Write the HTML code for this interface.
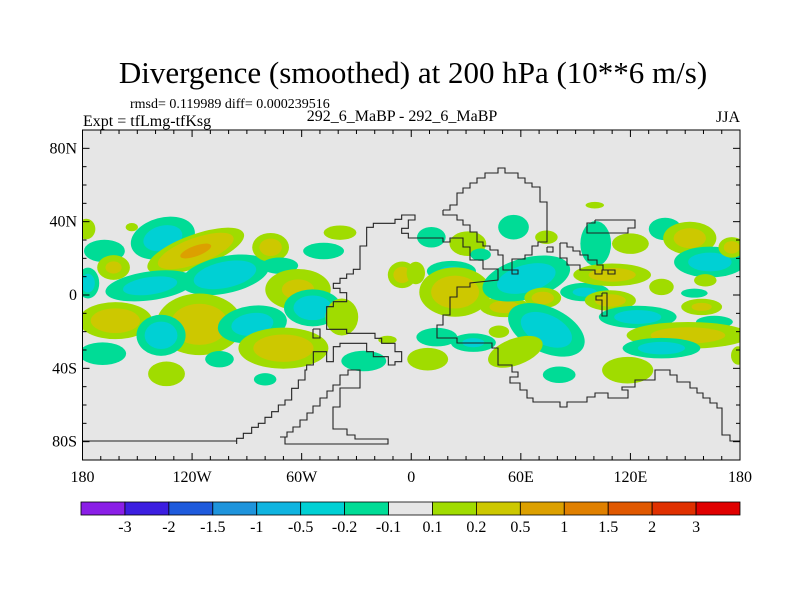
<!DOCTYPE html>
<html><head><meta charset="utf-8"><style>
html,body{margin:0;padding:0;background:#fff;}
svg{display:block;font-family:"Liberation Serif",serif;}
</style></head><body>
<svg id="chart" width="800" height="600" viewBox="0 0 800 600" xmlns="http://www.w3.org/2000/svg">
<defs><clipPath id="mapclip"><rect x="82.5" y="130" width="657.5" height="330"/></clipPath></defs>
<text x="413" y="83" font-size="31" text-anchor="middle">Divergence (smoothed) at 200 hPa (10**6 m/s)</text>
<text x="130" y="108" font-size="14">rmsd= 0.119989 diff= 0.000239516</text>
<text x="83" y="126" font-size="16">Expt = tfLmg-tfKsg</text>
<text x="402" y="121" font-size="16" text-anchor="middle">292_6_MaBP - 292_6_MaBP</text>
<text x="740" y="122" font-size="16" text-anchor="end">JJA</text>
<rect x="82.5" y="130" width="657.5" height="330" fill="#e6e6e6"/>
<g id="blobs" clip-path="url(#mapclip)"></g>
<g id="coast" fill="none" stroke="#222" stroke-width="1.1"></g>
<rect x="82.5" y="130" width="657.5" height="330" fill="none" stroke="#000" stroke-width="1"/>
<g id="ticks" stroke="#000" stroke-width="1"></g>
<g id="labels" font-size="16"></g>
<g id="cbar"></g>
</svg>
<script>
// ---- data ----
const blobLons = [-136,-118,-143,-102,-77,-72,-48,-39,-62,-54,-38,-162,-116,-137,-87,-70,-169,-134,-105,-80,-26,-5,-177,-178,-168,-163,-153,-13,
 11,31,56,74,38,101,2.5,22,24,51,63,95,72,110,109,120,139,152.5,163.5,175.5,137,161,155,159,124,166,151.5,137,74,9,14,34,57,48,81,118.5,100.5,179];
const blobLats = [31,24,5,11,26,16,24,34,3,-7,-12,-14,-16,-22,-16,-29,-32,-43,-35,-46,-36,11,6.5,36,24,15,37,-24.5,
 31.5,28,37,31.5,22,28,12,13,1.6,-6.5,9,1.6,-1.6,11,-3,28,36,31,18,26,4.4,8,1,-6.5,-12,-14.7,-22,-29,-19,-35,-23,-26,-31,-20,-43.5,-41,49,-33];
const blobRx = [16,25,22,22,9,9,10,8,16,14,8,18,21,12,17,22,11.5,9,7,5.5,11,7,5.5,4.5,10,8,3,4.5,
 7,9,7.5,5.5,5,7.5,4.5,12,17.5,12,22,12,9,19,12.5,9,8,13,17.5,6.5,6,5.5,6.5,10,19,9,30,19,20,10,10,11,14,5,8,12.5,4.5,3.5];
const blobRy = [10,8,7,9,7,4,4,3.5,10,9,9,9,15,10,9,10,5.5,6,4,3,5,6.5,7.5,5,5.5,6,2,2,
 5,6,6,3.3,3,11,5.5,5,12,5,10,4.5,5,5.5,5,5,5.5,8,7.5,5,4,3,2.2,4,5.5,3,6.5,5,11,5.5,4.5,4.5,6.5,3,4,6.5,1.6,4.5];
const blobValues = [-0.3,0.6,-0.3,-0.4,0.3,-0.15,-0.15,0.15,0.25,-0.35,0.2,0.35,0.35,-0.35,-0.3,0.35,-0.2,0.15,-0.15,-0.15,-0.15,0.3,-0.3,0.15,-0.15,0.25,0.15,0.15,
 -0.15,0.15,-0.15,0.15,-0.15,-0.15,0.15,-0.25,0.35,0.3,-0.35,-0.25,0.3,0.3,0.3,0.15,-0.15,0.3,-0.3,0.3,0.15,0.15,-0.15,0.25,-0.3,-0.15,0.3,-0.3,-0.35,0.15,-0.15,-0.25,0.15,0.15,-0.15,0.15,0.15,0.15];
const blobTilts = [-15,-20,-8,-12,0,0,0,0,0,0,0,0,0,0,-8,0,0,0,0,0,0,0,0,0,0,0,0,0,
 0,0,0,0,0,0,0,0,0,0,-15,0,0,0,0,0,0,0,0,0,0,0,0,0,0,0,0,0,25,0,0,0,-20,0,0,0,0,0];
const levels = [-3,-2,-1.5,-1,-0.5,-0.2,-0.1,0.1,0.2,0.5,1,1.5,2,3];
const levelLabels = ["-3","-2","-1.5","-1","-0.5","-0.2","-0.1","0.1","0.2","0.5","1","1.5","2","3"];
const bandColors = ["#8a1ee6","#3c1ee0","#1e5adc","#1e94dc","#10b4e0","#00d0d4","#00dc96","#e6e6e6","#a0dc00","#cdc800","#dca000","#e08000","#e05800","#e03000","#e00000"];
const lonTicks = [-180,-120,-60,0,60,120,180];
const lonTickLabels = ["180","120W","60W","0","60E","120E","180"];
const latTicks = [80,40,0,-40,-80];
const latTickLabels = ["80N","40N","0","40S","80S"];

// ---- axes ----
const X0=82.5, X1=740, Y0=130, Y1=460;
const xOf = lon => X0 + (lon+180)/360*(X1-X0);
const yOf = lat => Y0 + (90-lat)/180*(Y1-Y0);
const sx = (X1-X0)/360*1.12, sy=(Y1-Y0)/180*1.12;
const NS="http://www.w3.org/2000/svg";
function mk(tag, attrs, parent){const e=document.createElementNS(NS,tag);for(const k in attrs)e.setAttribute(k,attrs[k]);parent.appendChild(e);return e;}
const zeroBand = levels.indexOf(0.1);

// ---- blobs ----
const gB=document.getElementById('blobs');
const cuts=[0.1,0.2,0.5,1];
for(let i=0;i<blobValues.length;i++){
  const v=blobValues[i], a=Math.abs(v), sgn=Math.sign(v);
  const cx=xOf(blobLons[i]), cy=yOf(blobLats[i]);
  cuts.forEach((t,j)=>{
    if(t>=a) return;
    const s=Math.sqrt(Math.log(a/t)/Math.log(a/0.1));
    const col=bandColors[sgn>0 ? zeroBand+1+j : zeroBand-1-j];
    const e=mk('ellipse',{cx:cx,cy:cy,rx:blobRx[i]*sx*s,ry:blobRy[i]*sy*s,fill:col,transform:`rotate(${blobTilts[i]} ${cx} ${cy})`},gB);
    
    
  });
}

// ---- coastlines ----
const coastZ6 = [[20,822],[20,805],[40,805],[40,790],[65,790],[65,772],[85,772],[85,760],[105,760],[105,742],[125,742],[125,725],[145,725],[145,705],[165,705],[165,690],[185,690],[185,655],[205,655],[205,630],[225,630],[225,600],[230,600],[230,585],[250,585],[250,545],[290,545],[290,575],[310,575],[310,530],[330,530],[330,520],[410,520],[410,545],[430,545],[430,560],[475,560],[475,585],[495,585],[495,575],[515,575],[515,545],[495,545],[495,520],[455,520],[455,505],[435,505],[435,490],[350,490],[350,478],[290,478],[290,410],[310,410],[310,395],[350,395],[350,368],[330,368],[330,355],[310,355],[310,340],[330,340],[330,325],[350,325],[350,312],[370,312],[370,298],[390,298],[390,228],[410,228],[410,172],[430,172],[430,160],[495,160],[495,148],[515,148],[515,135],[555,135],[555,150],[535,150],[535,175],[515,175],[515,190],[535,190],[535,205]];
const inner = [[280,437],[287,437],[287,432],[293,432],[293,427],[300,427],[300,420],[307,420],[307,413],[313,413],[313,406],[320,406],[320,398],[327,398],[327,391],[333,391],[333,385],[340,385],[340,375],[348,375],[348,370],[360,370],[360,388],[340,388],[340,407],[333,407],[333,429],[347,429],[347,435],[355,435],[355,439],[388,439],[388,444],[285,444],[285,437],[280,437]];
const loop = [[443,210],[450,210],[450,205],[457,205],[457,193],[463,193],[463,188],[470,188],[470,183],[477,183],[477,178],[485,178],[485,173],[498,173],[498,168],[505,168],[505,173],[518,173],[518,178],[525,178],[525,183],[532,183],[532,187],[540,187],[540,202],[547,202],[547,242],[538,242],[538,246],[532,246],[532,255],[525,255],[525,259],[512,259],[512,274],[518,274],[518,270],[503,270],[503,255],[498,255],[498,250],[490,250],[490,246],[483,246],[483,242],[477,242],[477,232],[470,232],[470,225],[463,225],[463,220],[457,220],[457,215],[443,215],[443,210]];
const africa = [[408,238],[443,238],[443,242],[450,242],[450,238],[463,238],[463,247],[470,247],[470,260],[483,260],[483,269],[498,269],[498,280],[470,283],[470,287],[457,287],[457,297],[450,297],[450,315],[443,315],[443,325],[437,325],[437,338],[457,338],[457,343],[492,343],[492,348],[498,348],[498,365],[512,365],[512,372],[518,372],[518,377],[510,377],[510,383],[520,383],[520,390],[527,390],[527,398],[533,398],[533,402],[560,402],[560,407],[567,407],[567,402],[587,402],[587,397],[595,397],[595,393],[608,393],[608,398],[628,398],[628,390],[622,390],[622,387],[635,387],[635,380],[655,380],[655,370],[670,370],[670,375],[677,375],[677,382],[690,382],[690,388],[697,388],[697,393],[703,393],[703,398],[710,398],[710,403],[717,403],[717,408],[722,408],[722,435],[730,435],[730,441],[740,441]];
const boxA = [[595,220],[635,220],[635,228],[628,228],[628,233],[587,233],[587,223],[595,223],[595,220]];
const boxB = [[560,243],[567,243],[567,247],[573,247],[573,251],[580,251],[580,255],[588,255],[588,260],[597,260],[597,265],[603,265],[603,270],[615,270],[615,274],[608,274],[608,270],[602,270],[602,274],[595,274],[595,270],[580,270],[580,265],[567,265],[567,258],[560,258],[560,243]];
const boxC = [[602,293],[607,293],[607,316],[602,316],[602,300],[596,300],[596,296],[602,296],[602,293]];
const boxD = [[547,247],[553,247],[553,252],[547,252],[547,247]];
const boxE = [[313,329],[320,329],[320,338],[313,338],[313,329]];
const southLine = [[83,441],[237,441]];
const gC=document.getElementById('coast');
function poly(pts,name){const p=mk('polyline',{points:pts.map(q=>q.join(',')).join(' ')},gC);}
poly(coastZ6.map(p=>[p[0]/3+230,p[1]/3+170]),'coastline-west');
poly(southLine,'coastline-south');
poly(inner,'coastline-inner');
poly(loop,'coastline-north-loop');
poly(africa,'coastline-east');
[boxA,boxB,boxC,boxD,boxE].forEach(b=>poly(b,'coastline-island'));

// ---- ticks ----
const gT=document.getElementById('ticks');
for(let lon=-170;lon<180;lon+=10){
  const x=xOf(lon), L=(lon%60===0)?7:4;
  mk('line',{x1:x,y1:Y0,x2:x,y2:Y0+L},gT); mk('line',{x1:x,y1:Y1,x2:x,y2:Y1-L},gT);
}
for(let lat=-80;lat<=80;lat+=10){
  const y=yOf(lat), L=(lat%40===0)?7:4;
  mk('line',{x1:X0,y1:y,x2:X0+L,y2:y},gT); mk('line',{x1:X1,y1:y,x2:X1-L,y2:y},gT);
}
const gL=document.getElementById('labels');
lonTicks.forEach((lon,i)=>{
  const t=mk('text',{x:xOf(lon),y:482,'text-anchor':'middle'},gL);t.textContent=lonTickLabels[i];
  
  
});
latTicks.forEach((lat,i)=>{
  const t=mk('text',{x:77,y:yOf(lat)+5,'text-anchor':'end'},gL);t.textContent=latTickLabels[i];
  
  
});

// ---- colorbar ----
const gCb=document.getElementById('cbar');
const CB0=81, CB1=740, CBY=502, CBH=13, bw=(CB1-CB0)/bandColors.length;
bandColors.forEach((c,i)=>{
  const r=mk('rect',{x:CB0+i*bw,y:CBY,width:bw,height:CBH,fill:c,stroke:'#000','stroke-width':0.8},gCb);
  
  
});
levelLabels.forEach((s,i)=>{
  const t=mk('text',{x:CB0+(i+1)*bw,y:532,'text-anchor':'middle','font-size':16},gCb);t.textContent=s;
  
  
});
</script>
</body></html>
